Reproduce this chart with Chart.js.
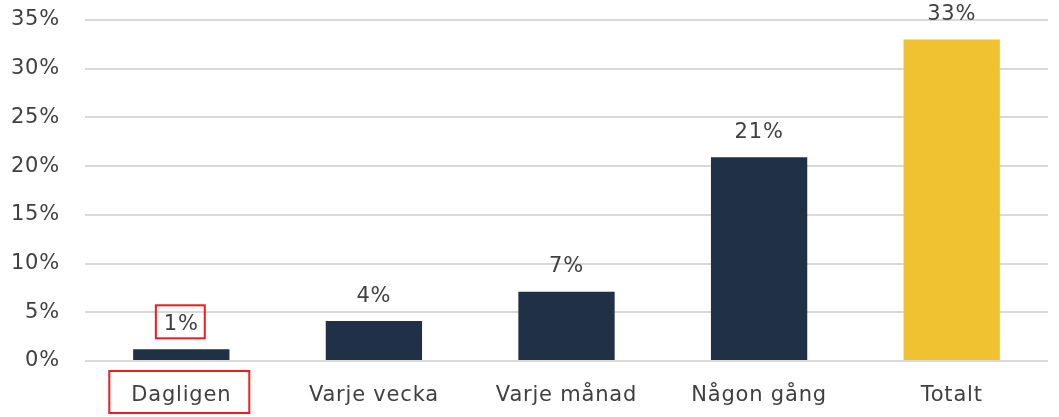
<!DOCTYPE html>
<html>
<head>
<meta charset="utf-8">
<script src="https://cdn.jsdelivr.net/npm/chart.js@4"></script>
<style>
  html, body { margin: 0; padding: 0; background: #fff; }
  #wrap { width: 1059px; height: 417px; }
</style>
</head>
<body>
<div id="wrap"><canvas id="myChart"></canvas></div>
<script>
const categories = ['Dagligen', 'Varje vecka', 'Varje månad', 'Någon gång', 'Totalt'];
const values = [1.2, 4.1, 7.1, 20.9, 33];
const valueLabels = ['1%', '4%', '7%', '21%', '33%'];
const yTicks = [0, 5, 10, 15, 20, 25, 30, 35];
const highlighted = 0;

const navy = '#1f3047';
const yellow = '#f0c232';
const textColor = '#404040';
const fontFamily = '"DejaVu Sans", sans-serif';
const fontSize = 21;

// the original font is wider, so space the letters out a little
const spacingPlugin = {
  id: 'spacing',
  beforeDraw(chart) { chart.ctx.letterSpacing = '0.8px'; }
};

// value labels above the bars, plus the red boxes round the first one
const labelsPlugin = {
  id: 'labels',
  afterDatasetsDraw(chart) {
    const ctx = chart.ctx;
    const meta = chart.getDatasetMeta(0);
    ctx.save();
    ctx.font = fontSize + 'px ' + fontFamily;
    ctx.fillStyle = textColor;
    ctx.textAlign = 'center';
    ctx.textBaseline = 'middle';
    meta.data.forEach((bar, i) => {
      ctx.fillText(valueLabels[i], bar.x, bar.y - 25);
    });

    // red box round the value label
    const bar = meta.data[highlighted];
    const w = ctx.measureText(valueLabels[highlighted]).width;
    ctx.strokeStyle = '#ee1c1c';
    ctx.lineWidth = 2;
    ctx.strokeRect(bar.x - w / 2 - 8, bar.y - 44, w + 14, 33);

    // red box round the category label
    const xs = chart.scales.x;
    const cx = xs.getPixelForValue(highlighted);
    const lw = ctx.measureText(categories[highlighted]).width;
    ctx.strokeRect(cx - lw / 2 - 22, xs.top + 10, lw + 40, 42);
    ctx.restore();
  }
};

new Chart(document.getElementById('myChart'), {
  type: 'bar',
  data: {
    labels: categories,
    datasets: [{
      data: values,
      backgroundColor: values.map((v, i) => i === values.length - 1 ? yellow : navy),
      barPercentage: 0.5,
      categoryPercentage: 1
    }]
  },
  options: {
    responsive: true,
    maintainAspectRatio: false,
    animation: false,
    layout: { padding: { top: 20, right: 11, bottom: 0, left: 0 } },
    plugins: { legend: { display: false }, tooltip: { enabled: false } },
    scales: {
      x: {
        grid: { display: false },
        border: { display: false },
        afterFit(axis) { axis.height = 56; axis.paddingLeft = 0; axis.paddingRight = 0; },
        ticks: { color: textColor, font: { family: fontFamily, size: fontSize }, padding: 14 }
      },
      y: {
        min: 0,
        max: 35,
        afterBuildTicks(axis) { axis.ticks = yTicks.map(v => ({ value: v })); },
        afterFit(axis) { axis.width = 85; axis.paddingTop = 0; axis.paddingBottom = 0; },
        grid: { color: '#d9d9d9', lineWidth: 2, drawTicks: false },
        border: { display: false },
        ticks: {
          color: textColor,
          font: { family: fontFamily, size: fontSize },
          padding: 25,
          callback: v => v + '%'
        }
      }
    }
  },
  plugins: [spacingPlugin, labelsPlugin]
});
</script>
</body>
</html>
